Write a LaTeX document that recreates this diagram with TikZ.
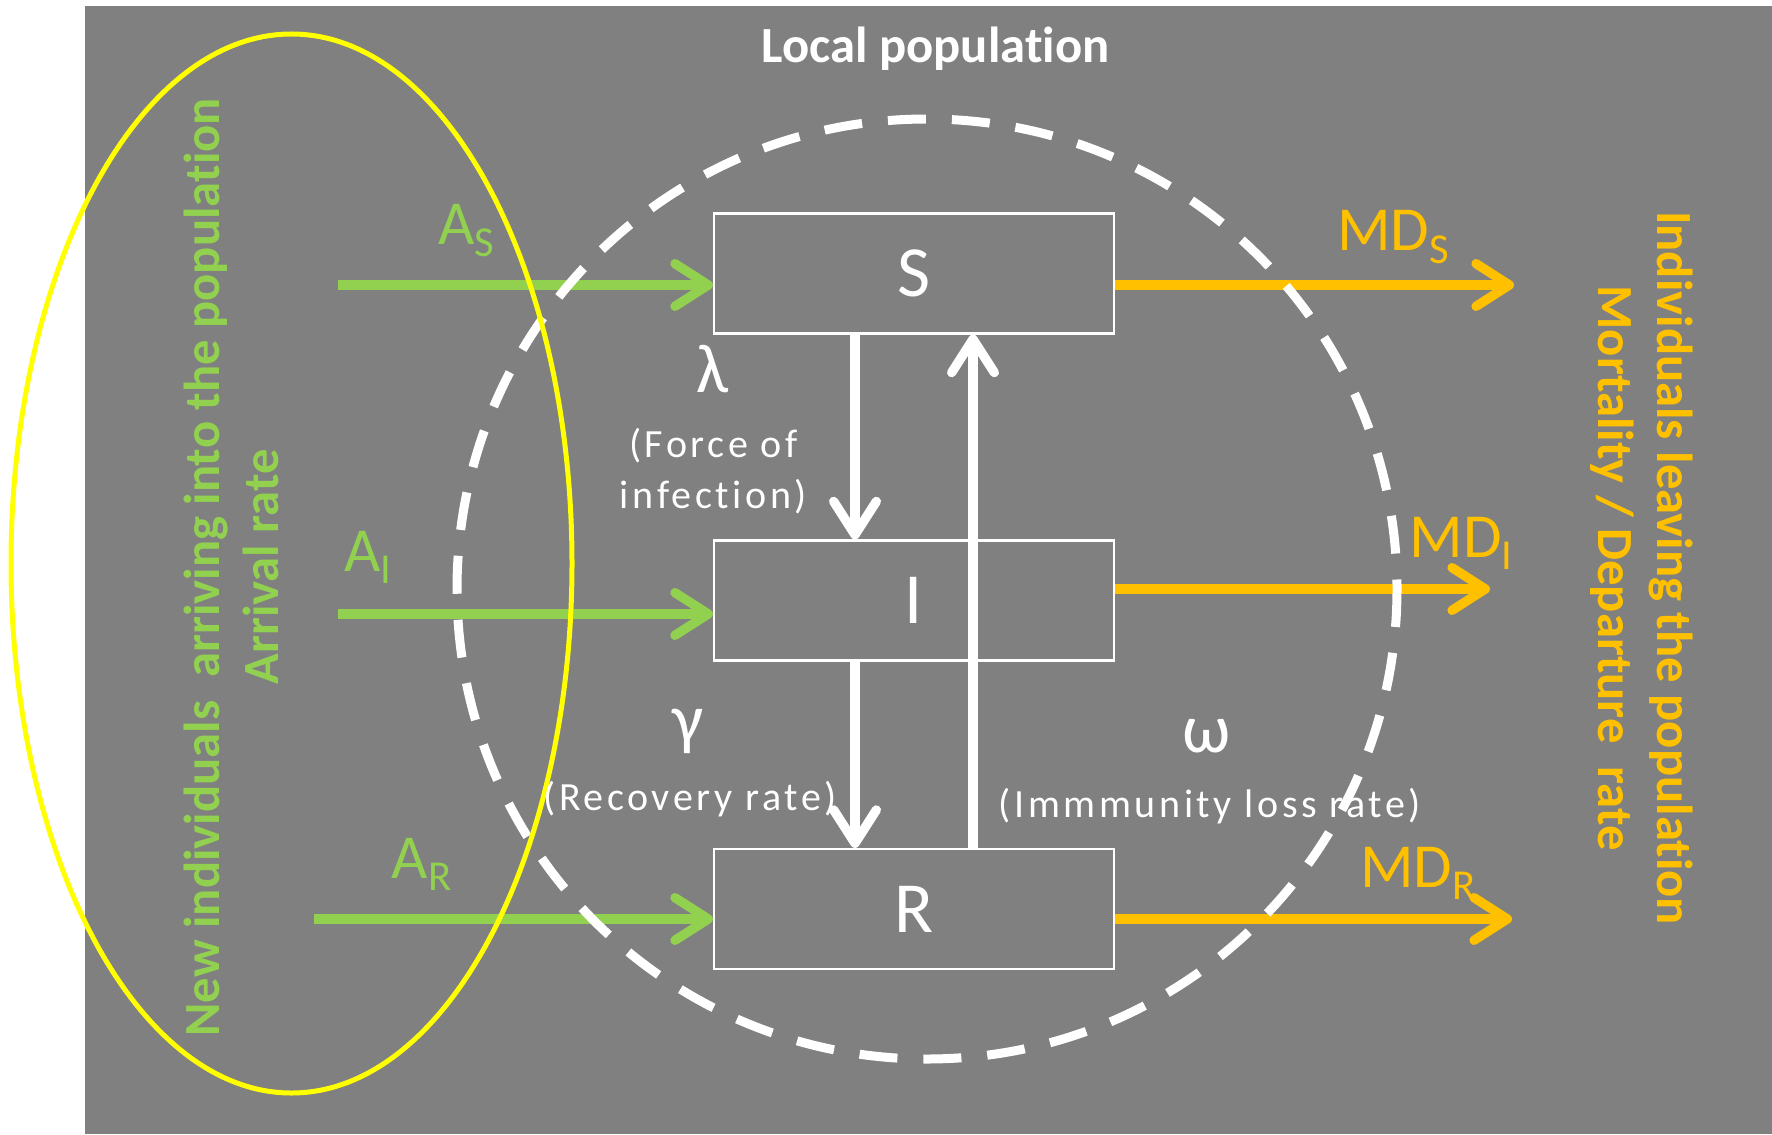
\documentclass[tikz,border=0pt]{standalone}
\usepackage{fontspec}
\setmainfont{Carlito}[Ligatures={NoCommon}]
\usetikzlibrary{arrows.meta,calc}

\definecolor{bggray}{HTML}{808080}
\definecolor{ingreen}{HTML}{92D050}
\definecolor{outorange}{HTML}{FFC000}
\definecolor{ringyellow}{HTML}{FFFF00}

% lowered subscript for the flow labels
\newcommand\lblsub[1]{\raisebox{-9.5pt}{\fontsize{32}{34}\selectfont #1}}

\begin{document}
\begin{tikzpicture}[x=0.75pt,y=-0.75pt,
  compartment/.style={draw=white, line width=1.6pt, minimum width=300pt,
    minimum height=90pt, inner sep=0pt, text=white,
    font=\fontsize{54}{60}\selectfont},
  flow/.style={line width=7pt, -{Straight Barb[length=25pt,width=32pt,round]}},
  inflow/.style={flow, draw=ingreen},
  outflow/.style={flow, draw=outorange},
  trans/.style={flow, draw=white},
  ratelbl/.style={text=white, inner sep=0pt, anchor=base,
    font={\fontsize{30}{38}\selectfont\addfontfeature{LetterSpace=9}}},
  greek/.style={text=white, inner sep=0pt, anchor=base,
    font=\fontsize{52}{56}\selectfont},
  flowlbl/.style={inner sep=0pt, anchor=base, font=\fontsize{47}{50}\selectfont},
  vtext/.style={inner sep=0pt, anchor=base,
    font=\bfseries\fontsize{38}{40}\selectfont},
]
\useasboundingbox (0,0) rectangle (1772,1134);
\fill[white] (0,0) rectangle (1772,1134);
\fill[bggray] (85,6) rectangle (1772,1134);

% compartments
\node[compartment] (S) at (914,273.5) {S};
\node[compartment] (I) at (914,600.5) {I};
\node[compartment] (R) at (914,909) {R};

% free ends of the arrival and departure flows
\coordinate (aS) at (338,285);
\coordinate (aI) at (338,614);
\coordinate (aR) at (314,919);
\coordinate (mS) at (1514,285);
\coordinate (mI) at (1490,589);
\coordinate (mR) at (1512,919);

% arrivals
\draw[inflow] (aS) -- (aS -| S.west);
\draw[inflow] (aI) -- (aI -| I.west);
\draw[inflow] (aR) -- (aR -| R.west);

% transitions between compartments
\draw[trans] ($(S.south)+(-59,0)$) -- ($(I.north)+(-59,0)$);
\draw[trans] ($(I.south)+(-59,0)$) -- ($(R.north)+(-59,0)$);
\draw[trans] ($(R.north)+(59,0)$) -- ($(S.south)+(59,0)$);

% departures
\draw[outflow] (mS -| S.east) -- (mS);
\draw[outflow] (mI -| I.east) -- (mI);
\draw[outflow] (mR -| R.east) -- (mR);

% local population boundary
\draw[white, line width=6.75pt, dash pattern=on 28.5pt off 19.5pt]
  (927,589) circle[radius=470];

% arrivals group
\draw[ringyellow, line width=3.75pt] (291.5,563.5) ellipse[x radius=280.5, y radius=529.5];

% labels
\node[vtext, text=white] (title) at (935.5,63) {Local population};

\node[greek] (lambda) at (713,392) {λ};
\node[ratelbl, align=center] (force) at (713.5,508) {(Force of\\infection)};
\node[greek] (gamma) at (688,742) {γ};
\node[ratelbl] (recov) at (690,810) {(Recovery rate)};
\node[greek] (omega) at (1207,752) {ω};
\node[ratelbl] (immu) at (1210,817) {(Immmunity loss rate)};

\node[flowlbl, text=ingreen] (lAS) at (466.5,244) {A\lblsub{S}};
\node[flowlbl, text=ingreen] (lAI) at (368,571) {A\lblsub{I}};
\node[flowlbl, text=ingreen] (lAR) at (421.5,878) {A\lblsub{R}};
\node[flowlbl, text=outorange] (lMS) at (1393,251) {MD\lblsub{S}};
\node[flowlbl, text=outorange] (lMI) at (1461,557) {MD\lblsub{I}};
\node[flowlbl, text=outorange] (lMR) at (1418,887) {MD\lblsub{R}};

\node[vtext, text=ingreen, rotate=90] (newind) at (219,567.5)
  {New individuals\ \ arriving into the population};
\node[vtext, text=ingreen, rotate=90] (arrival) at (278,567) {Arrival rate};
\node[vtext, text=outorange, rotate=-90] (leaving) at (1657,568)
  {Individuals leaving the population};
\node[vtext, text=outorange, rotate=-90] (mortal) at (1598,568)
  {Mortality / Departure\ \ rate};
\end{tikzpicture}
\end{document}
